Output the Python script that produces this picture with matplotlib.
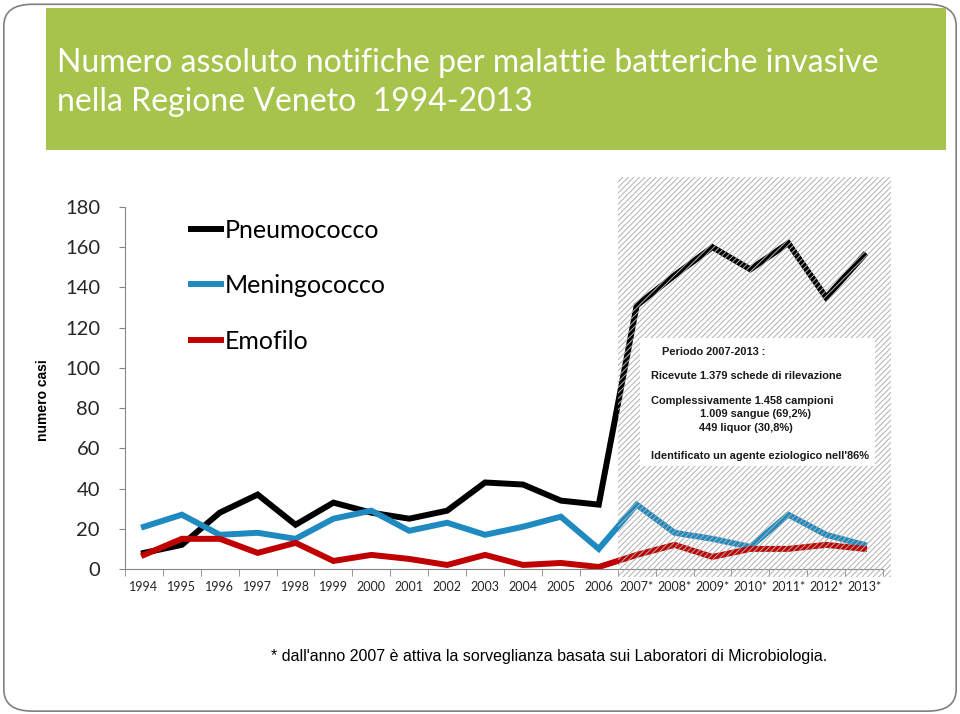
import matplotlib
matplotlib.use("Agg")
import matplotlib.pyplot as plt
from matplotlib.patches import Rectangle, FancyBboxPatch

# Data
years = ["1994", "1995", "1996", "1997", "1998", "1999", "2000", "2001", "2002",
         "2003", "2004", "2005", "2006", "2007*", "2008*", "2009*", "2010*",
         "2011*", "2012*", "2013*"]
pneumococco = [8, 12, 28, 37, 22, 33, 28, 25, 29, 43, 42, 34, 32,
               131, 146, 160, 149, 162, 135, 156]
meningococco = [21, 27, 17, 18, 15, 25, 29, 19, 23, 17, 21, 26, 10,
                32, 18, 15, 11, 27, 17, 12]
emofilo = [7, 15, 15, 8, 13, 4, 7, 5, 2, 7, 2, 3, 1,
           7, 12, 6, 10, 10, 12, 10]

box_lines = [
    ("Periodo 2007-2013 :", 13.67, 108),
    ("Ricevute 1.379 schede di rilevazione", 13.38, 96),
    ("Complessivamente 1.458 campioni", 13.38, 83.6),
    ("1.009 sangue (69,2%)", 14.67, 77.1),
    ("449 liquor (30,8%)", 14.65, 70.1),
    ("Identificato un agente eziologico nell'86%", 13.38, 56.2),
]

plt.rcParams['hatch.linewidth'] = 0.7
plt.rcParams['hatch.color'] = '#b0b0b0'

fig = plt.figure(figsize=(9.6, 7.14), dpi=100)

# slide frame
fig.patches.append(FancyBboxPatch((0.004, 0.004), 0.992, 0.990,
                                  boxstyle="round,pad=0,rounding_size=0.03",
                                  transform=fig.transFigure, fill=False,
                                  edgecolor='#7f7f7f', linewidth=1.2))
# title banner
fig.patches.append(Rectangle((0.048, 0.790), 0.937, 0.199, transform=fig.transFigure,
                             facecolor='#A6C34C', edgecolor='none'))
fig.text(0.059, 0.884, "Numero assoluto notifiche per malattie batteriche invasive\n"
         "nella Regione Veneto  1994-2013", color='white', fontsize=23,
         family='Lato', va='center', ha='left', linespacing=1.38)

ax = fig.add_axes([0.1302, 0.2031, 0.7896, 0.5070])
x = list(range(len(years)))

ax.plot(x, pneumococco, color='black', lw=4.3, label='Pneumococco', solid_joinstyle='miter', zorder=3)
ax.plot(x, meningococco, color='#1F8AC0', lw=4.3, label='Meningococco', solid_joinstyle='miter', zorder=3)
ax.plot(x, emofilo, color='#C00000', lw=4.3, label='Emofilo', solid_joinstyle='miter', zorder=3)

ax.set_xlim(-0.5, len(years) - 0.5)
ax.set_ylim(0, 180)
ax.set_yticks(range(0, 181, 20))
ax.set_xticks(x)
ax.set_xticklabels(years)
ax.set_xticks([i + 0.5 for i in range(-1, len(years))], minor=True)
ax.tick_params(axis='x', which='major', length=0, pad=9, labelsize=9, labelcolor='#262626')
ax.tick_params(axis='x', which='minor', length=5, color='#868686', direction='out')
ax.tick_params(axis='y', length=4, color='#868686', pad=14, labelsize=14.5, labelcolor='#262626')
for lab in ax.get_xticklabels() + ax.get_yticklabels():
    lab.set_family('Lato')
for s in ['top', 'right']:
    ax.spines[s].set_visible(False)
for s in ['left', 'bottom']:
    ax.spines[s].set_color('#868686')
    ax.spines[s].set_linewidth(0.8)

# hatched area for surveillance period 2007-2013
ax.add_patch(Rectangle((12.5, -4), 7.2, 199, facecolor='none', hatch='//////',
                       edgecolor='#b0b0b0', linewidth=0, zorder=4, clip_on=False))
ax.add_patch(Rectangle((13.09, 51.2), 6.2, 63.7, facecolor='white',
                       edgecolor='none', zorder=5, clip_on=False))
for txt, tx, ty in box_lines:
    ax.text(tx, ty, txt, fontsize=7.9, fontweight='bold', family='Liberation Sans',
            ha='left', va='center', color='#1a1a1a', zorder=6)

leg = ax.legend(loc='upper left', bbox_to_anchor=(0.057, 1.03), frameon=False,
                handlelength=1.2, handletextpad=0.15, labelspacing=1.3,
                prop={'family': 'Lato', 'size': 18})

fig.text(0.045, 0.44, "numero casi", rotation=90, fontsize=10, fontweight='bold',
         family='Liberation Sans', ha='center', va='center')
fig.text(0.572, 0.080, "* dall'anno 2007 è attiva la sorveglianza basata sui Laboratori di Microbiologia.",
         fontsize=11.5, family='Liberation Sans', ha='center', va='center')

fig.savefig("out.png", dpi=100)
